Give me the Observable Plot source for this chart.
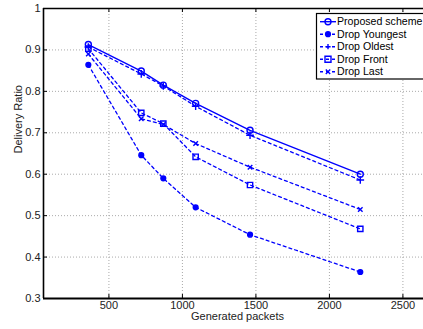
<!DOCTYPE html>
<html><head><meta charset="utf-8">
<script src="https://cdn.jsdelivr.net/npm/d3@7"></script>
<script src="https://cdn.jsdelivr.net/npm/@observablehq/plot@0.6"></script>
<style>
body{margin:0;background:#fff}
svg{font-family:"Liberation Sans",Arial,Helvetica,sans-serif}
</style>
</head><body><div id="chart"></div>
<script>
// ---- data ----
const packets = [360, 720, 870, 1090, 1460, 2210];
const seriesNames = ["Proposed scheme", "Drop Youngest", "Drop Oldest", "Drop Front", "Drop Last"];
const proposed     = [0.913, 0.849, 0.815, 0.771, 0.706, 0.600];
const dropYoungest = [0.864, 0.646, 0.590, 0.520, 0.454, 0.364];
const dropOldest   = [0.907, 0.842, 0.813, 0.764, 0.694, 0.586];
const dropFront    = [0.903, 0.748, 0.722, 0.642, 0.574, 0.468];
const dropLast     = [0.890, 0.734, 0.720, 0.674, 0.617, 0.515];
const xTicks = [500, 1000, 1500, 2000, 2500];
const yTicks = [0.3, 0.4, 0.5, 0.6, 0.7, 0.8, 0.9, 1];
const xDomain = [55, 2640];
const yDomain = [0.3, 1];

const seriesValues = [proposed, dropYoungest, dropOldest, dropFront, dropLast];
const styles = {
  "Proposed scheme": {symbol: "circle", fill: "none", dash: null, r: 3},
  "Drop Youngest":   {symbol: "circle", fill: "blue", dash: "3,3", r: 2.4},
  "Drop Oldest":     {symbol: "plus",   fill: "none", dash: "3,3", r: 2.6},
  "Drop Front":      {symbol: "square", fill: "none", dash: "3,3", r: 3},
  "Drop Last":       {symbol: "times",  fill: "none", dash: "3,3", r: 2.2}
};
const rows = seriesNames.flatMap((s, i) => packets.map((p, j) => ({series: s, x: p, y: seriesValues[i][j]})));

const blue = "#0000ff";
const drawOrder = ["Drop Last", "Drop Front", "Drop Oldest", "Drop Youngest", "Proposed scheme"];

const lineMarks = drawOrder.flatMap(s => {
  const st = styles[s];
  const data = rows.filter(d => d.series === s);
  return [
    Plot.line(data, {x: "x", y: "y", stroke: blue, strokeWidth: s === "Proposed scheme" ? 1.4 : 1.3,
      strokeDasharray: st.dash, curve: "linear"}),
    Plot.dot(data, {x: "x", y: "y", symbol: () => st.symbol, r: st.r, stroke: blue,
      fill: st.fill === "none" ? "none" : blue, strokeWidth: 1.4})
  ];
});

const chart = Plot.plot({
  width: 423, height: 329,
  marginLeft: 43, marginRight: 0, marginTop: 8, marginBottom: 31,
  style: {background: "#fff", fontSize: "11px", color: "#222", fontFamily: "'Liberation Sans', Arial, sans-serif"},
  x: {domain: xDomain, label: null},
  y: {domain: yDomain, label: null},
  symbol: {type: "identity"},
  marks: [
    Plot.gridX(xTicks, {stroke: "#aaa", strokeOpacity: 1, strokeDasharray: "1,2"}),
    Plot.gridY(yTicks.slice(1, -1), {stroke: "#aaa", strokeOpacity: 1, strokeDasharray: "1,2"}),
    // inward ticks (bottom, top, left)
    Plot.ruleX(xTicks, {x: d => d, y1: yDomain[0], y2: yDomain[0], insetTop: -4, stroke: "#000"}),
    Plot.ruleX(xTicks, {x: d => d, y1: yDomain[1], y2: yDomain[1], insetBottom: -4, stroke: "#000"}),
    Plot.ruleY(yTicks, {y: d => d, x1: xDomain[0], x2: xDomain[0], insetRight: -4, stroke: "#000"}),
    Plot.axisX(xTicks, {tickSize: 0, tickPadding: 3, fill: "#222", tickFormat: d => String(d)}),
    Plot.axisY(yTicks, {tickSize: 0, tickPadding: 3, fill: "#222", tickFormat: d => String(d)}),
    ...lineMarks,
    // frame lines
    Plot.ruleX([xDomain[0]], {stroke: "#000", strokeWidth: 1.6}),
    Plot.ruleY([yDomain[0]], {stroke: "#000", strokeWidth: 1.8}),
    Plot.ruleY([yDomain[1]], {stroke: "#000", strokeWidth: 1.6}),
    Plot.text(["Generated packets"], {frameAnchor: "bottom", dy: 21.5, dx: 4, fill: "#222", fontSize: 11}),
    Plot.text(["Delivery Ratio"], {frameAnchor: "left", dx: -25, rotate: -90, fill: "#222", fontSize: 11})
  ]
});
document.getElementById("chart").appendChild(chart);

// ---- legend ----
const svg = d3.select(chart);
const lg = svg.append("g").attr("font-size", 10.6).attr("fill", "#000").attr("text-anchor", "start");
lg.append("rect").attr("x", 316.5).attr("y", 13.5).attr("width", 130).attr("height", 65.5)
  .attr("fill", "#fff").attr("stroke", "#000").attr("stroke-width", 1.2);
const symPath = {
  circle: r => d3.symbol(d3.symbolCircle, Math.PI * r * r)(),
  square: r => d3.symbol(d3.symbolSquare, 4 * r * r)(),
  plus: r => `M${-r},0H${r}M0,${-r}V${r}`,
  times: r => `M${-r},${-r}L${r},${r}M${-r},${r}L${r},${-r}`
};
seriesNames.forEach((s, i) => {
  const st = styles[s];
  const y = 21.7 + i * 12.5;
  const g = lg.append("g").attr("transform", `translate(0,${y})`);
  g.append("line").attr("x1", 320).attr("x2", 336).attr("y1", 0).attr("y2", 0)
    .attr("stroke", blue).attr("stroke-width", 1.4).attr("stroke-dasharray", st.dash);
  g.append("path").attr("transform", "translate(328,0)").attr("d", symPath[st.symbol](st.r))
    .attr("stroke", blue).attr("stroke-width", 1.4).attr("fill", st.fill === "none" ? "none" : blue);
  g.append("text").attr("x", 337).attr("y", 0).attr("dy", "0.35em").attr("text-anchor", "start").text(s);
});
</script>
</body></html>
